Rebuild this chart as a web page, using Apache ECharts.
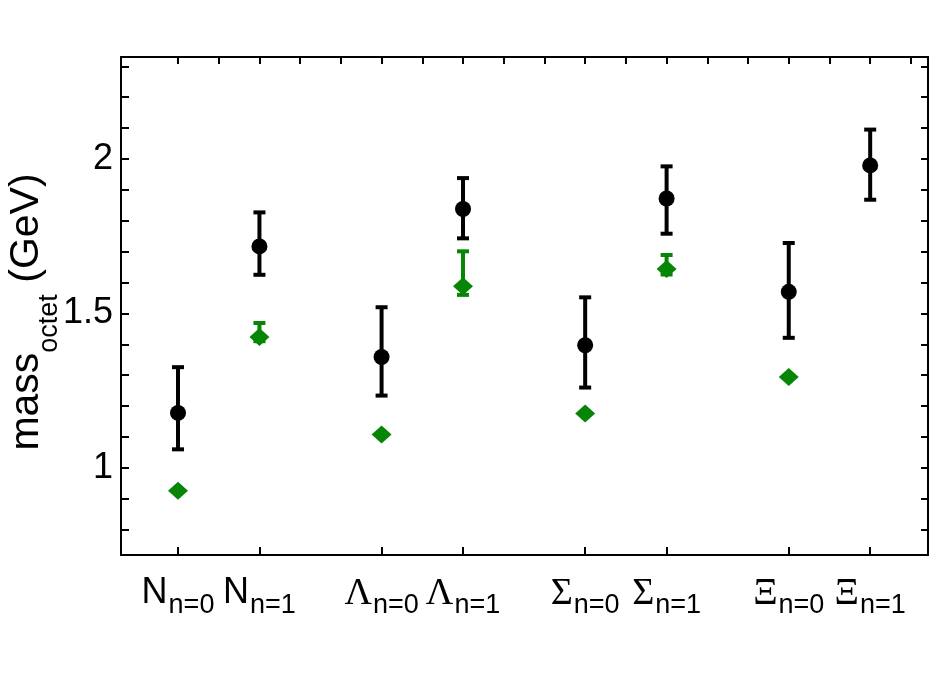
<!DOCTYPE html>
<html>
<head>
<meta charset="utf-8">
<script src="https://cdn.jsdelivr.net/npm/echarts@6/dist/echarts.min.js"></script>
<style>
  html, body { margin: 0; padding: 0; background: #ffffff; }
  #chart { width: 938px; height: 682px; }
</style>
</head>
<body>
<div id="chart"></div>
<script>
// ---- data ----
const xPos       = [1, 2, 3.5, 4.5, 6, 7, 8.5, 9.5];
const labelMain  = ['N', 'N', 'Λ', 'Λ', 'Σ', 'Σ', 'Ξ', 'Ξ'];
const labelSub   = ['n=0', 'n=1', 'n=0', 'n=1', 'n=0', 'n=1', 'n=0', 'n=1'];
const greekSet   = ['Λ', 'Σ', 'Ξ'];

const blackMass  = [1.178, 1.717, 1.359, 1.838, 1.397, 1.872, 1.570, 1.979];
const blackHi    = [1.326, 1.827, 1.520, 1.938, 1.552, 1.976, 1.728, 2.095];
const blackLo    = [1.060, 1.625, 1.234, 1.743, 1.260, 1.758, 1.421, 1.868];

const greenMass  = [0.926, 1.424, 1.108, 1.588, 1.176, 1.644, 1.294, null];
const greenHi    = [null, 1.469, null, 1.701, null, 1.689, null, null];
const greenLo    = [null, 1.410, null, 1.560, null, 1.626, null, null];

const yTicks     = [0.8, 0.9, 1.0, 1.1, 1.2, 1.3, 1.4, 1.5, 1.6, 1.7, 1.8, 1.9, 2.0, 2.1, 2.2, 2.3];
const yLabels    = [1, 1.5, 2];
const xTopTicks  = [1, 1.5, 2, 2.5, 3, 3.5, 4, 4.5, 5, 5.5, 6, 6.5, 7, 7.5, 8, 8.5, 9, 9.5, 10];
const yMin = 0.718, yMax = 2.330;
const xMin = 0.3,  xMax = 10.21;

// ---- build series data ----
const blackPts = xPos.map((x, i) => [x, blackMass[i]]);
const blackErr = xPos.map((x, i) => [x, blackLo[i], blackHi[i]]);
const greenPts = xPos.map((x, i) => [x, greenMass[i]]).filter(d => d[1] != null);
const greenErr = xPos.map((x, i) => [x, greenLo[i], greenHi[i]]).filter(d => d[1] != null);

const BLACK = '#000000';
const GREEN = '#078507';

function errRender(color, lw, cap) {
  return function (params, api) {
    const x = api.value(0), lo = api.value(1), hi = api.value(2);
    const pHi = api.coord([x, hi]);
    const pLo = api.coord([x, lo]);
    const st = { stroke: color, lineWidth: lw, lineCap: 'butt' };
    return {
      type: 'group',
      children: [
        { type: 'line', shape: { x1: pHi[0], y1: pHi[1], x2: pLo[0], y2: pLo[1] }, style: st },
        { type: 'line', shape: { x1: pHi[0] - cap, y1: pHi[1], x2: pHi[0] + cap, y2: pHi[1] }, style: st },
        { type: 'line', shape: { x1: pLo[0] - cap, y1: pLo[1], x2: pLo[0] + cap, y2: pLo[1] }, style: st }
      ]
    };
  };
}

function xLabelFmt(v) {
  const i = xPos.indexOf(v);
  if (i < 0) return '';
  const m = labelMain[i];
  const style = greekSet.indexOf(m) >= 0 ? 'g' : 'm';
  return '{' + style + '|' + m + '}{s|' + labelSub[i] + '}';
}

const axisLineStyle = { color: '#000', width: 2 };
const tickStyle = { color: '#000', width: 2 };

const chart = echarts.init(document.getElementById('chart'), null, { renderer: 'canvas' });
chart.setOption({
  animation: false,
  backgroundColor: '#ffffff',
  grid: { left: 121, right: 10, top: 57, bottom: 127, containLabel: false, outerBoundsMode: 'none' },
  xAxis: [
    {
      type: 'value', position: 'bottom', min: xMin, max: xMax,
      splitLine: { show: false },
      axisLine: { show: true, lineStyle: axisLineStyle },
      axisTick: { show: true, inside: true, length: 8, lineStyle: tickStyle, customValues: xPos },
      axisLabel: {
        show: true, margin: 20, customValues: xPos,
        formatter: xLabelFmt,
        rich: {
          m: { fontFamily: 'Liberation Sans', fontSize: 36, color: '#000', lineHeight: 40, verticalAlign: 'top' },
          g: { fontFamily: 'Liberation Serif', fontSize: 38, color: '#000', lineHeight: 40, verticalAlign: 'top' },
          s: { fontFamily: 'Liberation Sans', fontSize: 27, color: '#000', lineHeight: 27, verticalAlign: 'top', padding: [17, 0, 0, 1] }
        }
      }
    },
    {
      type: 'value', position: 'top', min: xMin, max: xMax,
      splitLine: { show: false },
      axisLine: { show: true, lineStyle: axisLineStyle },
      axisTick: { show: true, inside: true, length: 7, lineStyle: tickStyle, customValues: xTopTicks },
      axisLabel: { show: false }
    }
  ],
  yAxis: [
    {
      type: 'value', position: 'left', min: yMin, max: yMax,
      splitLine: { show: false },
      axisLine: { show: true, lineStyle: axisLineStyle },
      axisTick: { show: true, inside: true, length: 8, lineStyle: tickStyle, customValues: yTicks },
      axisLabel: {
        show: true, margin: 8, customValues: yLabels,
        fontFamily: 'Liberation Sans', fontSize: 36, color: '#000',
        formatter: function (v) { return String(v); }
      },
      name: '{m|mass}{s|octet}{m| (GeV)}',
      nameLocation: 'middle', nameRotate: 90, nameGap: 69, nameMoveOverlap: false,
      nameTextStyle: {
        padding: [0, 12, 0, 0],
        rich: {
          m: { fontFamily: 'Liberation Sans', fontSize: 41, color: '#000', lineHeight: 46, verticalAlign: 'top' },
          s: { fontFamily: 'Liberation Sans', fontSize: 27, color: '#000', lineHeight: 27, verticalAlign: 'top', padding: [30, 0, 0, 0] }
        }
      }
    },
    {
      type: 'value', position: 'right', min: yMin, max: yMax,
      splitLine: { show: false },
      axisLine: { show: true, lineStyle: axisLineStyle },
      axisTick: { show: true, inside: true, length: 7, lineStyle: tickStyle, customValues: yTicks },
      axisLabel: { show: false }
    }
  ],
  series: [
    {
      type: 'custom', name: 'black err', xAxisIndex: 0, yAxisIndex: 0,
      renderItem: errRender(BLACK, 4, 6), data: blackErr, encode: { x: 0, y: [1, 2] }, z: 2
    },
    {
      type: 'custom', name: 'green err', xAxisIndex: 0, yAxisIndex: 0,
      renderItem: errRender(GREEN, 4, 6), data: greenErr, encode: { x: 0, y: [1, 2] }, z: 2
    },
    {
      type: 'scatter', name: 'black', xAxisIndex: 0, yAxisIndex: 0,
      symbol: 'circle', symbolSize: 16, itemStyle: { color: BLACK, opacity: 1 }, data: blackPts, z: 3
    },
    {
      type: 'scatter', name: 'green', xAxisIndex: 0, yAxisIndex: 0,
      symbol: 'diamond', symbolSize: [20, 18], itemStyle: { color: GREEN, opacity: 1 }, data: greenPts, z: 3
    }
  ]
});
</script>
</body>
</html>
